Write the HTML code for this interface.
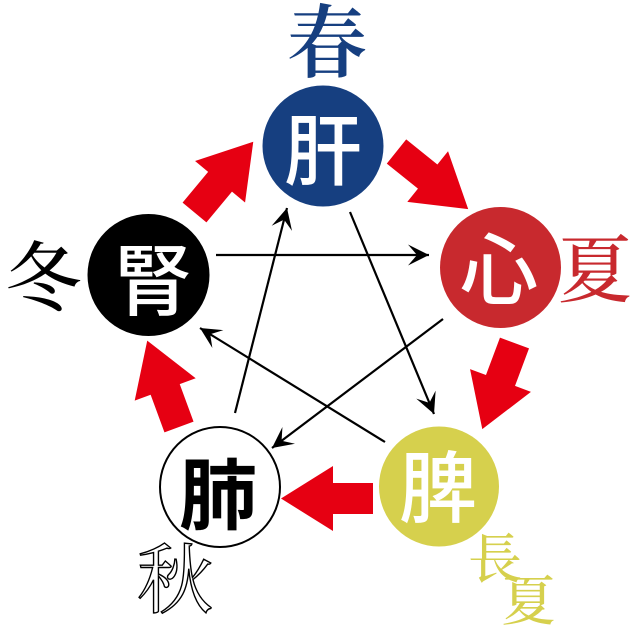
<!DOCTYPE html>
<html>
<head>
<meta charset="utf-8">
<style>
  html,body{margin:0;padding:0;background:#fff;}
  svg{display:block;}
  .serif{font-family:"Liberation Serif","Noto Serif CJK SC","Noto Serif CJK JP",serif;}
  .inner{font-family:"Liberation Sans","Noto Sans CJK JP","Noto Sans CJK SC",sans-serif;font-weight:500;}
</style>
</head>
<body>
<svg width="634" height="626" viewBox="0 0 634 626" xmlns="http://www.w3.org/2000/svg">
  <defs>
    <marker id="ah" viewBox="-21 -11 21 22" refX="0" refY="0" markerWidth="21" markerHeight="22" markerUnits="userSpaceOnUse" orient="auto">
      <path d="M0,0 L-21,-10.5 L-12,0 L-21,10.5 Z" fill="#000"/>
    </marker>
  </defs>

  <!-- circles -->
  <circle cx="323" cy="146" r="60.5" fill="#163f80"/>
  <circle cx="500.5" cy="267.5" r="60.5" fill="#c8292e"/>
  <circle cx="148.5" cy="275" r="61" fill="#000"/>
  <circle cx="220" cy="487" r="60" fill="#fff" stroke="#000" stroke-width="2"/>
  <circle cx="439" cy="486.5" r="60" fill="#d6d04d"/>

  <!-- red block arrows -->
  <g fill="#e60012">
    <polygon points="0,-15.5 40,-15.5 40,-32.5 92,0 40,32.5 40,15.5 0,15.5" transform="translate(194.5,212.5) rotate(-50.3)"/>
    <polygon points="0,-15.5 40,-15.5 40,-32.5 92,0 40,32.5 40,15.5 0,15.5" transform="translate(396.5,151.5) rotate(38.8)"/>
    <polygon points="0,-15.5 40,-15.5 40,-32.5 92,0 40,32.5 40,15.5 0,15.5" transform="translate(514.5,343) rotate(110.5)"/>
    <polygon points="0,-15.5 40,-15.5 40,-32.5 92,0 40,32.5 40,15.5 0,15.5" transform="translate(373,498.5) rotate(180)"/>
    <polygon points="0,-15.5 40,-15.5 40,-32.5 92,0 40,32.5 40,15.5 0,15.5" transform="translate(179,427) rotate(-110.2)"/>
  </g>

  <!-- black star arrows -->
  <g stroke="#000" stroke-width="2.2" fill="none">
    <line x1="216" y1="255" x2="429" y2="255" marker-end="url(#ah)"/>
    <line x1="350" y1="212" x2="434" y2="414" marker-end="url(#ah)"/>
    <line x1="443" y1="319" x2="272" y2="448" marker-end="url(#ah)"/>
    <line x1="385" y1="442" x2="200" y2="328" marker-end="url(#ah)"/>
    <line x1="235" y1="413" x2="287" y2="208" marker-end="url(#ah)"/>
  </g>

  <!-- inner characters -->
  <g class="inner" text-anchor="middle" font-size="78">
    <text x="323" y="179" fill="#fff">肝</text>
    <text x="499" y="298" fill="#fff">心</text>
    <text x="153" y="309" fill="#fff">腎</text>
    <text x="218" y="523" fill="#000" font-weight="700">肺</text>
    <text x="438" y="516" fill="#fff">脾</text>
  </g>

  <!-- season labels -->
  <g class="serif" text-anchor="middle">
    <text x="327" y="71" font-size="80" fill="#163f80" font-weight="600">春</text>
    <text x="595" y="296" font-size="74" fill="#c8292e" font-weight="500">夏</text>
    <text x="43.5" y="305" font-size="76" fill="#000" font-weight="500">冬</text>
    <text x="175" y="607" font-size="76" fill="#fff" stroke="#000" stroke-width="1.4">秋</text>
    <text x="495" y="578" font-size="54" fill="#d6d04d" font-weight="500">長</text>
    <text x="528.5" y="620" font-size="54" fill="#d6d04d" font-weight="500">夏</text>
  </g>
</svg>
</body>
</html>
